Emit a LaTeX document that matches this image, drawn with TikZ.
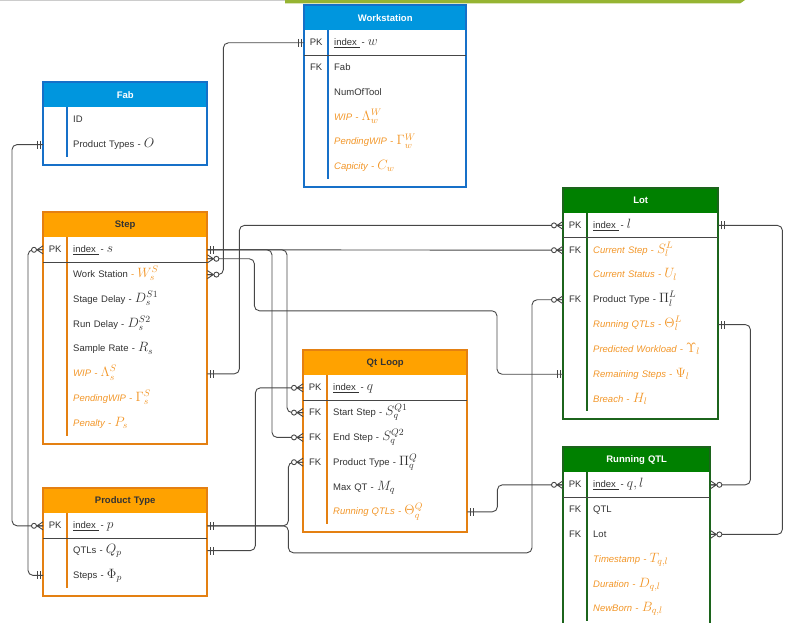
\RequirePackage{fix-cm}
\documentclass[tikz,border=0pt]{standalone}
\usepackage[no-math]{fontspec}
\setmainfont{Liberation Sans}
\usepackage{xcolor}
\usepackage{tikz}
\usetikzlibrary{positioning,calc}
\definecolor{hdrblue}{RGB}{0,150,222}
\definecolor{brdblue}{RGB}{22,112,200}
\definecolor{hdrorange}{RGB}{255,162,0}
\definecolor{brdorange}{RGB}{228,128,18}
\definecolor{hdrgreen}{RGB}{0,128,0}
\definecolor{brdgreen}{RGB}{28,100,28}
\definecolor{txtorange}{RGB}{242,150,40}
\definecolor{txtgray}{RGB}{50,50,50}
\definecolor{linegray}{RGB}{70,70,70}
\definecolor{topband}{RGB}{150,180,50}
\newcommand{\mth}[1]{{\fontsize{13.5}{13.5}\selectfont$#1$}}
\newcommand{\keycol}[1]{\makebox[24pt]{#1}\hspace{6pt}}
\newcommand{\idx}[1]{\underline{index\ }\,- \mth{#1}}
\newcommand{\orng}[1]{{\color{txtorange}\itshape #1}}
\tikzset{
hdr/.style={
anchor=north west,
inner sep=0pt,
minimum height=25pt,
align=center,
font=\fontsize{9.5}{11}\selectfont\bfseries
},
row/.style={
inner sep=0pt,
minimum height=24.4pt,
text height=11pt,
text depth=5pt,
align=left,
text=txtgray,
font=\fontsize{9.5}{11}\selectfont
},
tblline/.style={
draw=#1,
line width=2pt
},
pkline/.style={
draw=linegray,
line width=1pt
},
conn/.style={
draw=linegray,
line width=0.9pt,
rounded corners=5pt
},
endmark/.style={
draw=linegray,
line width=0.9pt
},
one/.pic={
\draw[endmark] (3pt,-4pt) -- (3pt,4pt) (6pt,-4pt) -- (6pt,4pt);
},
many/.pic={
\draw[endmark] (0pt,4pt) -- (6pt,0pt) -- (0pt,-4pt) (0pt,0pt) -- (6pt,0pt);
\draw[endmark,fill=white] (9pt,0pt) circle (2.5pt);
}
}
\begin{document}
\begin{tikzpicture}[x=1pt,y=-1pt]
\useasboundingbox (0,0) rectangle (807,623);
\clip (0,0) rectangle (807,623);
\fill[black!20] (0,0) rectangle (285,1.2);
\fill[topband] (285,0) -- (745,0) -- (740,3.5) -- (285,3.5) -- cycle;

% Workstation
\begin{scope}[nodes={text width=162pt}]
\node[hdr,fill=hdrblue,text=white] (ws) at (304,5) {Workstation};
\node[row,below=0pt of ws] (ws-pk) {\keycol{PK}\idx{w}};
\node[row,below=0pt of ws-pk] (ws-fab) {\keycol{FK}Fab};
\node[row,below=0pt of ws-fab] (ws-tool) {\keycol{}NumOfTool};
\node[row,below=0pt of ws-tool] (ws-wip) {\keycol{}\orng{WIP - \mth{\Lambda_w^W}}};
\node[row,below=0pt of ws-wip] (ws-pend) {\keycol{}\orng{PendingWIP - \mth{\Gamma_w^W}}};
\node[row,below=0pt of ws-pend] (ws-cap) {\keycol{}\orng{Capicity - \mth{C_w}}};
\end{scope}
\draw[tblline=brdblue] (ws.north west) rectangle ($(ws-cap.south east)+(0,8)$);
\draw[tblline=brdblue] ([xshift=24pt]ws-pk.north west) -- ([xshift=24pt]ws-cap.south west);
\draw[pkline] (ws-pk.south west) -- (ws-pk.south east);

% Fab
\begin{scope}[nodes={text width=164pt}]
\node[hdr,fill=hdrblue,text=white] (fab) at (43,82) {Fab};
\node[row,below=0pt of fab] (fab-id) {\keycol{}ID};
\node[row,below=0pt of fab-id] (fab-pt) {\keycol{}Product Types - \mth{O}};
\end{scope}
\draw[tblline=brdblue] (fab.north west) rectangle ($(fab-pt.south east)+(0,8)$);
\draw[tblline=brdblue] ([xshift=24pt]fab-id.north west) -- ([xshift=24pt]fab-pt.south west);

% Step
\begin{scope}[nodes={text width=164pt}]
\node[hdr,fill=hdrorange,text=black!80] (st) at (43,212) {Step};
\node[row,below=0pt of st] (st-pk) {\keycol{PK}\idx{s}};
\node[row,below=0pt of st-pk] (st-ws) {\keycol{}Work Station \textcolor{txtorange}{- \mth{W_s^S}}};
\node[row,below=0pt of st-ws] (st-d1) {\keycol{}Stage Delay - \mth{D_s^{S1}}};
\node[row,below=0pt of st-d1] (st-d2) {\keycol{}Run Delay - \mth{D_s^{S2}}};
\node[row,below=0pt of st-d2] (st-rate) {\keycol{}Sample Rate - \mth{R_s}};
\node[row,below=0pt of st-rate] (st-wip) {\keycol{}\orng{WIP - \mth{\Lambda_s^S}}};
\node[row,below=0pt of st-wip] (st-pend) {\keycol{}\orng{PendingWIP - \mth{\Gamma_s^S}}};
\node[row,below=0pt of st-pend] (st-pen) {\keycol{}\orng{Penalty - \mth{P_s}}};
\end{scope}
\draw[tblline=brdorange] (st.north west) rectangle ($(st-pen.south east)+(0,8)$);
\draw[tblline=brdorange] ([xshift=24pt]st-pk.north west) -- ([xshift=24pt]st-pen.south west);
\draw[pkline] (st-pk.south west) -- (st-pk.south east);

% Qt Loop
\begin{scope}[nodes={text width=164pt}]
\node[hdr,fill=hdrorange,text=black!80] (ql) at (303,350) {Qt Loop};
\node[row,below=0pt of ql] (ql-pk) {\keycol{PK}\idx{q}};
\node[row,below=0pt of ql-pk] (ql-start) {\keycol{FK}Start Step - \mth{S_q^{Q1}}};
\node[row,below=0pt of ql-start] (ql-end) {\keycol{FK}End Step - \mth{S_q^{Q2}}};
\node[row,below=0pt of ql-end] (ql-pt) {\keycol{FK}Product Type - \mth{\Pi_q^Q}};
\node[row,below=0pt of ql-pt] (ql-max) {\keycol{}Max QT - \mth{M_q}};
\node[row,below=0pt of ql-max] (ql-run) {\keycol{}\orng{Running QTLs - \mth{\Theta_q^Q}}};
\end{scope}
\draw[tblline=brdorange] (ql.north west) rectangle ($(ql-run.south east)+(0,8)$);
\draw[tblline=brdorange] ([xshift=24pt]ql-pk.north west) -- ([xshift=24pt]ql-run.south west);
\draw[pkline] (ql-pk.south west) -- (ql-pk.south east);

% Lot
\begin{scope}[nodes={text width=155pt}]
\node[hdr,fill=hdrgreen,text=white] (lot) at (563,187.6) {Lot};
\node[row,below=0pt of lot] (lot-pk) {\keycol{PK}\idx{l}};
\node[row,below=0pt of lot-pk] (lot-step) {\keycol{FK}\orng{Current Step - \mth{S_l^L}}};
\node[row,below=0pt of lot-step] (lot-status) {\keycol{}\orng{Current Status - \mth{U_l}}};
\node[row,below=0pt of lot-status] (lot-pt) {\keycol{FK}Product Type - \mth{\Pi_l^L}};
\node[row,below=0pt of lot-pt] (lot-run) {\keycol{}\orng{Running QTLs - \mth{\Theta_l^L}}};
\node[row,below=0pt of lot-run] (lot-work) {\keycol{}\orng{Predicted Workload - \mth{\Upsilon_l}}};
\node[row,below=0pt of lot-work] (lot-remain) {\keycol{}\orng{Remaining Steps - \mth{\Psi_l}}};
\node[row,below=0pt of lot-remain] (lot-breach) {\keycol{}\orng{Breach - \mth{H_l}}};
\end{scope}
\draw[tblline=brdgreen] (lot.north west) rectangle ($(lot-breach.south east)+(0,8)$);
\draw[tblline=brdgreen] ([xshift=24pt]lot-pk.north west) -- ([xshift=24pt]lot-breach.south west);
\draw[pkline] (lot-pk.south west) -- (lot-pk.south east);

% Running QTL
\begin{scope}[nodes={text width=147pt}]
\node[hdr,fill=hdrgreen,text=white] (rq) at (563,447) {Running QTL};
\node[row,below=0pt of rq] (rq-pk) {\keycol{PK}\idx{q,l}};
\node[row,below=0pt of rq-pk] (rq-qtl) {\keycol{FK}QTL};
\node[row,below=0pt of rq-qtl] (rq-lot) {\keycol{FK}Lot};
\node[row,below=0pt of rq-lot] (rq-time) {\keycol{}\orng{Timestamp - \mth{T_{q,l}}}};
\node[row,below=0pt of rq-time] (rq-dur) {\keycol{}\orng{Duration - \mth{D_{q,l}}}};
\node[row,below=0pt of rq-dur] (rq-new) {\keycol{}\orng{NewBorn - \mth{B_{q,l}}}};
\end{scope}
\draw[tblline=brdgreen] (rq.north west) rectangle ($(rq-new.south east)+(0,8)$);
\draw[tblline=brdgreen] ([xshift=24pt]rq-pk.north west) -- ([xshift=24pt]rq-new.south west);
\draw[pkline] (rq-pk.south west) -- (rq-pk.south east);

% Product Type
\begin{scope}[nodes={text width=164pt}]
\node[hdr,fill=hdrorange,text=black!80] (pt) at (43,488) {Product Type};
\node[row,below=0pt of pt] (pt-pk) {\keycol{PK}\idx{p}};
\node[row,below=0pt of pt-pk] (pt-qtl) {\keycol{}QTLs - \mth{Q_p}};
\node[row,below=0pt of pt-qtl] (pt-steps) {\keycol{}Steps - \mth{\Phi_p}};
\end{scope}
\draw[tblline=brdorange] (pt.north west) rectangle ($(pt-steps.south east)+(0,8)$);
\draw[tblline=brdorange] ([xshift=24pt]pt-pk.north west) -- ([xshift=24pt]pt-steps.south west);
\draw[pkline] (pt-pk.south west) -- (pt-pk.south east);

% relations
\coordinate (st-pk2) at ([yshift=-9pt]st-pk.east);
\draw[conn] (st-ws.east) -- ++(16,0) |- (ws-pk.west);
\draw[conn] (st-pk.east) -- (lot-step.west);
\draw[conn] (ql-start.west) -- ++(-16,0) |- (st-pk.east);
\draw[conn] (ql-end.west) -- ++(-31,0) |- (st-pk.east);
\draw[conn] (st-pk2) -- ++(47,0) -- ++(0,52) -| ([xshift=-66pt]lot-remain.west) -- (lot-remain.west);
\draw[conn] (st-wip.east) -- ++(32,0) |- (lot-pk.west);
\draw[conn] (pt-qtl.east) -- ++(48,0) |- (ql-pk.west);
\draw[conn] (pt-pk.east) -- ++(81,0) |- (ql-pt.west);
\draw[conn] (pt-pk.east) -- ++(81,0) -- ++(0,27) -| ([xshift=-31pt]lot-pt.west) -- (lot-pt.west);
\draw[conn] (ql-run.east) -- ++(30,0) |- (rq-pk.west);
\draw[conn] (lot-run.east) -- ++(32,0) |- (rq-pk.east);
\draw[conn] (lot-pk.east) -- ++(64,0) |- (rq-lot.east);
\draw[conn] (fab-pt.west) -- ++(-31,0) |- (pt-pk.west);
\draw[conn] (st-pk.west) -- ++(-15,0) |- (pt-steps.west);

\foreach \a in {ws-pk,fab-pt,pt-steps,lot-remain}
\pic[rotate=180] at (\a.west) {one};
\foreach \a in {st-pk,st-wip,pt-pk,pt-qtl,ql-run,lot-pk,lot-run}
\pic at (\a.east) {one};
\foreach \a in {st-pk,pt-pk,ql-pk,ql-start,ql-end,ql-pt,lot-pk,lot-step,lot-pt,rq-pk}
\pic[rotate=180] at (\a.west) {many};
\foreach \a in {st-ws,rq-pk,rq-lot}
\pic at (\a.east) {many};
\pic at (st-pk2) {many};
\end{tikzpicture}
\end{document}
